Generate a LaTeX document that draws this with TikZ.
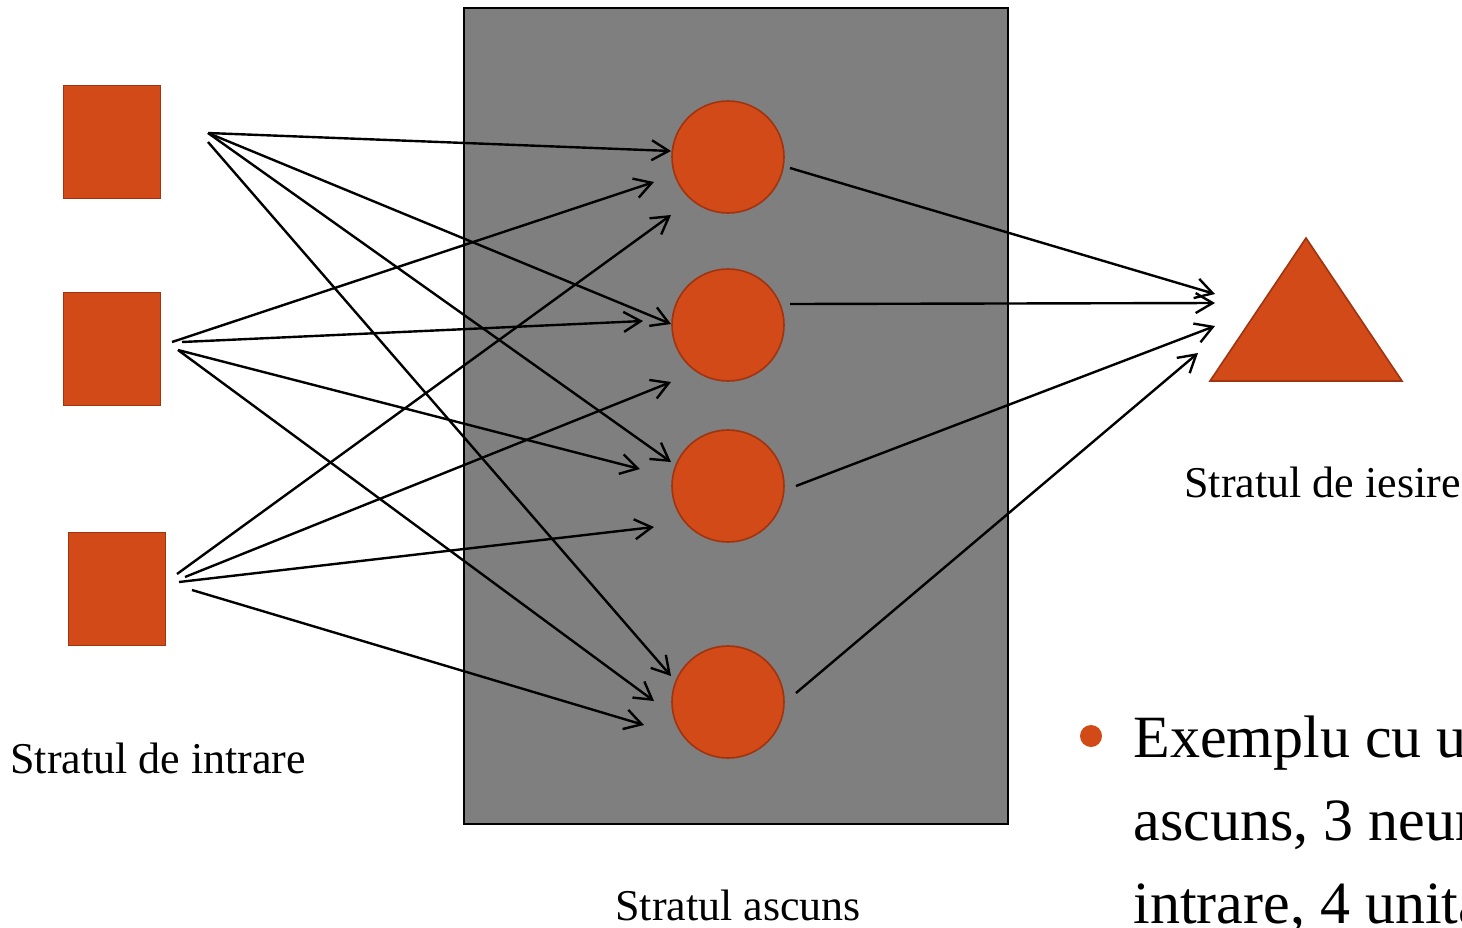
\documentclass[tikz,border=0pt]{standalone}
\usepackage{fontspec}
\setmainfont{Liberation Serif}
\usetikzlibrary{arrows.meta,positioning}

\definecolor{unitfill}{RGB}{210,74,23}
\definecolor{unitdraw}{RGB}{158,52,16}
\definecolor{layergray}{RGB}{127,127,127}

\tikzset{
    inunit/.style={rectangle,fill=unitfill,draw=unitdraw,line width=0.8pt,minimum width=48.5pt,minimum height=56.5pt,inner sep=0pt},
    hidunit/.style={circle,fill=unitfill,draw=unitdraw,line width=0.8pt,minimum size=56pt,inner sep=0pt},
    conn/.style={line width=1.2pt,-{Straight Barb[length=8.5pt,width=10pt]}},
    layerlabel/.style={font=\fontsize{22}{26}\selectfont,inner sep=0pt,anchor=base west},
}

\begin{document}
\begin{tikzpicture}[x=0.5pt,y=-0.5pt]
        \useasboundingbox (0,0) rectangle (1462,927);
        \clip (0,0) rectangle (1462,927);
        \node[draw=black,fill=layergray,line width=0.8pt,minimum width=272pt,minimum height=408pt,inner sep=0pt] (hid) at (736,416) {};
        \node[inunit] (i1) at (112,142) {};
        \node[inunit] (i2) at (112,349) {};
        \node[inunit] (i3) at (117,589) {};
        \node[hidunit] (h1) at (728,157) {};
        \node[hidunit] (h2) at (728,325) {};
        \node[hidunit] (h3) at (728,486) {};
        \node[hidunit] (h4) at (728,702) {};
        \coordinate (oa) at (1210,381);
        \coordinate (ob) at (1306,238);
        \coordinate (oc) at (1402,381);
        \draw[fill=unitfill,draw=unitdraw,line width=0.8pt] (oa) -- (ob) -- (oc) -- cycle;
        \coordinate (i1a) at (208,133);
        \coordinate (i1b) at (208,142);
        \coordinate (i2a) at (172,342);
        \coordinate (i2b) at (182,342);
        \coordinate (i2c) at (178,350);
        \coordinate (i3a) at (177,574);
        \coordinate (i3b) at (185,577);
        \coordinate (i3c) at (179,582);
        \coordinate (i3d) at (192,590);
        \coordinate (h1a) at (671,151);
        \coordinate (h1b) at (654,182);
        \coordinate (h1c) at (671,215);
        \coordinate (h2a) at (671,324);
        \coordinate (h2b) at (643,321);
        \coordinate (h2c) at (671,382);
        \coordinate (h3a) at (671,462);
        \coordinate (h3b) at (640,469);
        \coordinate (h3c) at (654,527);
        \coordinate (h4a) at (671,676);
        \coordinate (h4b) at (654,701);
        \coordinate (h4c) at (644,725);
        \draw[conn] (i1a) -- (h1a);
        \draw[conn] (i1a) -- (h2a);
        \draw[conn] (i1a) -- (h3a);
        \draw[conn] (i1b) -- (h4a);
        \draw[conn] (i2a) -- (h1b);
        \draw[conn] (i2b) -- (h2b);
        \draw[conn] (i2c) -- (h3b);
        \draw[conn] (i2c) -- (h4b);
        \draw[conn] (i3a) -- (h1c);
        \draw[conn] (i3b) -- (h2c);
        \draw[conn] (i3c) -- (h3c);
        \draw[conn] (i3d) -- (h4c);
        \coordinate (h1o) at (790,168);
        \coordinate (h2o) at (790,304);
        \coordinate (h3o) at (796,486);
        \coordinate (h4o) at (796,693);
        \coordinate (o1) at (1215,294);
        \coordinate (o2) at (1215,303);
        \coordinate (o3) at (1215,326);
        \coordinate (o4) at (1198,353);
        \draw[conn] (h1o) -- (o1);
        \draw[conn] (h2o) -- (o2);
        \draw[conn] (h3o) -- (o3);
        \draw[conn] (h4o) -- (o4);
        \node[layerlabel] (inlab) at (10,773) {Stratul de intrare};
        \node[layerlabel] (hidlab) at (615,920) {Stratul ascuns};
        \node[layerlabel] (outlab) at (1184,497) {Stratul de iesire};
        \fill[unitfill] (1091,736) circle[radius=11];
        \node[anchor=base west,align=left,font=\fontsize{30}{41.5}\selectfont,inner sep=0pt] (note) at (1133,923) {Exemplu cu un strat\\ascuns, 3 neuroni de\\intrare, 4 unitati ascunse};
    \end{tikzpicture}
\end{document}
